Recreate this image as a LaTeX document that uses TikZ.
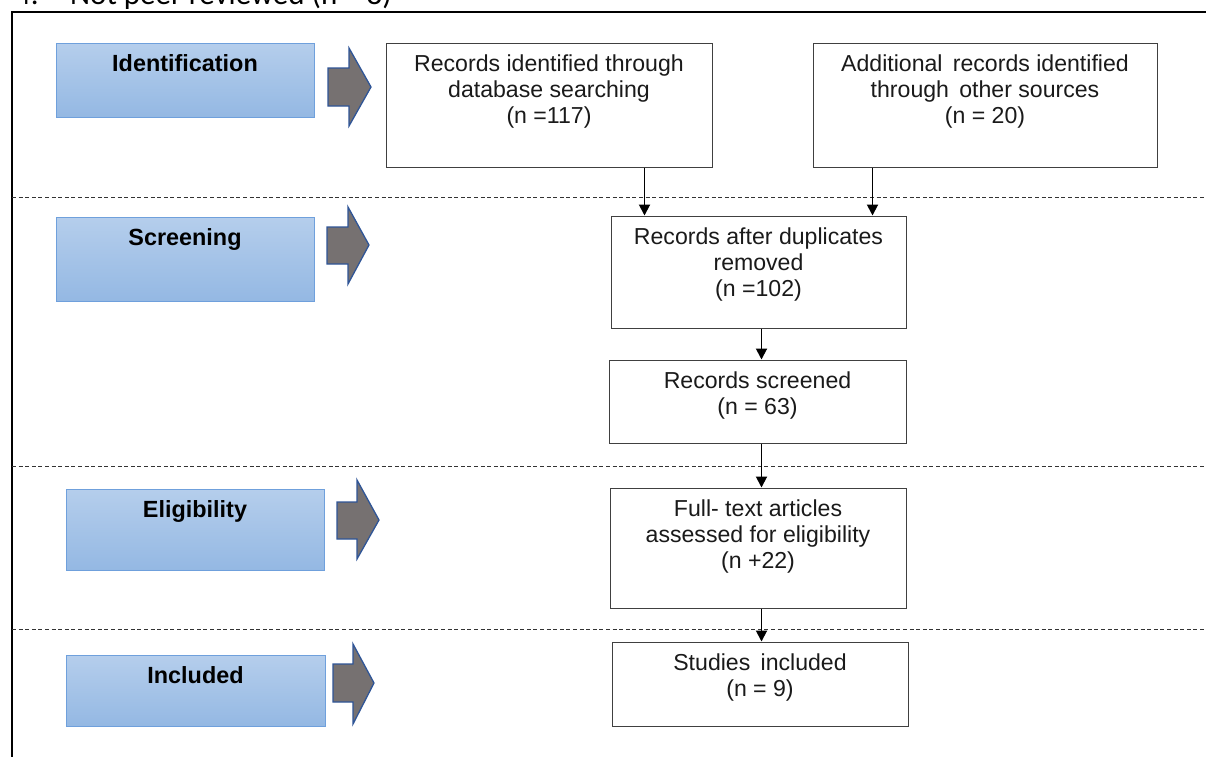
\documentclass[tikz,border=0pt]{standalone}
\usepackage{fontspec}
\setmainfont{Liberation Sans}
\newfontfamily\calibrifont{Carlito}
\usetikzlibrary{arrows.meta}
\definecolor{bluetop}{HTML}{B5CEEC}
\definecolor{bluebot}{HTML}{94B8E3}
\definecolor{blueedge}{HTML}{6FA0DC}
\definecolor{arrowfill}{HTML}{767171}
\definecolor{arrowedge}{HTML}{2F5597}
\definecolor{boxedge}{HTML}{404040}
\definecolor{txt}{HTML}{1A1A1A}
\begin{document}
\begin{tikzpicture}[x=1pt,y=-1pt,
  phase/.style={rectangle, draw=blueedge, line width=0.9pt, top color=bluetop, bottom color=bluebot, inner sep=0pt},
  phaselabel/.style={anchor=base, inner sep=0pt, text=black, font=\bfseries\fontsize{23.4}{26}\selectfont},
  box/.style={rectangle, draw=boxedge, line width=1pt, fill=white, inner sep=0pt},
  boxtext/.style={anchor=north, inner sep=0pt, align=center, text=txt, font=\fontsize{23.1}{26}\selectfont},
  bigarrow/.style={fill=arrowfill, draw=arrowedge, line width=1.3pt, line join=miter},
  conn/.style={draw=black, line width=1.9pt, -{Triangle[width=11pt,length=11pt]}},
  dashline/.style={draw=black!80, line width=0.8pt, dash pattern=on 4pt off 2.6pt}
]
\useasboundingbox (0,0) rectangle (1206,756);
\clip (0,0) rectangle (1206,756);

% cut-off text at top
\node[anchor=base west, inner sep=0pt, font=\calibrifont\fontsize{31}{34}\selectfont] (t4) at (15,4) {4.};
\node[anchor=base west, inner sep=0pt, font=\calibrifont\fontsize{31}{34}\selectfont] (tnp) at (70,4) {Not peer reviewed (n = 8)};

% outer frame
\draw[line width=2pt] (12,770) -- (12,12) -- (1220,12);

% dashed separators
\draw[dashline] (12,197) -- (1206,197);
\draw[dashline] (12,466) -- (1206,466);
\draw[dashline] (12,629) -- (1206,629);

% phase boxes
\node[phase, minimum width=258pt, minimum height=74pt] (pid) at (185,80) {};
\node[phaselabel] (lid) at (185,71.5) {Identification};
\node[phase, minimum width=258pt, minimum height=84pt] (psc) at (185,259) {};
\node[phaselabel] (lsc) at (185,245.5) {Screening};
\node[phase, minimum width=258pt, minimum height=81pt] (pel) at (195,529.5) {};
\node[phaselabel] (lel) at (195,517.5) {Eligibility};
\node[phase, minimum width=259pt, minimum height=71pt] (pin) at (195.5,690.5) {};
\node[phaselabel] (lin) at (195.5,683.5) {Included};

% big gray arrows
\draw[bigarrow] (328,68) -- (349,68) -- (349,48) -- (371,87) -- (349,126) -- (349,106) -- (328,106) -- cycle;
\draw[bigarrow] (327,227) -- (348,227) -- (348,207) -- (369,245) -- (348,284) -- (348,264) -- (327,264) -- cycle;
\draw[bigarrow] (337,502) -- (357,502) -- (357,480) -- (379,520) -- (357,559) -- (357,539) -- (337,539) -- cycle;
\draw[bigarrow] (333,664) -- (353,664) -- (353,644) -- (374,683) -- (353,724) -- (353,702) -- (333,702) -- cycle;

% flow boxes
\node[box, minimum width=326pt, minimum height=124pt] (rec) at (549,105) {};
\node[boxtext] (trec) at ([yshift=-11.7pt]rec.north) {Records identified through\\database searching\\(n =117)};
\node[box, minimum width=344pt, minimum height=124pt] (add) at (985,105) {};
\node[boxtext] (tadd) at ([yshift=-11.7pt]add.north) {Additional\, records identified\\through\, other sources\\(n = 20)};
\node[box, minimum width=295pt, minimum height=112pt] (dup) at (758.5,272) {};
\node[boxtext] (tdup) at ([yshift=-11.7pt]dup.north) {Records after duplicates\\removed\\(n =102)};
\node[box, minimum width=297pt, minimum height=83pt] (scr) at (757.5,401.5) {};
\node[boxtext] (tscr) at ([yshift=-11.7pt]scr.north) {Records screened\\(n = 63)};
\node[box, minimum width=296pt, minimum height=120pt] (full) at (758,548) {};
\node[boxtext] (tfull) at ([yshift=-11.7pt]full.north) {Full- text articles\\assessed for eligibility\\(n +22)};
\node[box, minimum width=296pt, minimum height=84pt] (inc) at (760,684) {};
\node[boxtext] (tinc) at ([yshift=-12.5pt]inc.north) {Studies\, included\\(n = 9)};

% connectors
\coordinate (xa) at (644.5,0);
\coordinate (xb) at (872.5,0);
\coordinate (xc) at (761.5,0);
\draw[conn] (rec.south -| xa) -- (dup.north -| xa);
\draw[conn] (add.south -| xb) -- (dup.north -| xb);
\draw[conn] (dup.south -| xc) -- (scr.north -| xc);
\draw[conn] (scr.south -| xc) -- (full.north -| xc);
\draw[conn] (full.south -| xc) -- (inc.north -| xc);
\end{tikzpicture}
\end{document}
